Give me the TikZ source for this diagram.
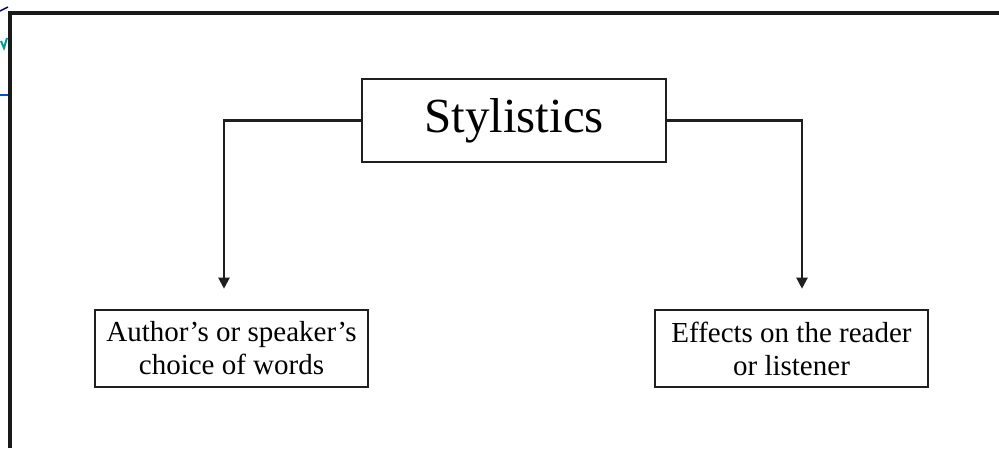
\documentclass[tikz,border=0pt]{standalone}
\usepackage{fontspec}
\setmainfont{Liberation Serif}
\usetikzlibrary{arrows.meta}
\begin{document}
\begin{tikzpicture}[x=1pt,y=-1pt,
  box/.style={draw=black!88, line width=2.6pt, align=center, inner sep=0pt},
  conn/.style={draw=black!88, line width=2.2pt, -{Triangle[width=11pt,length=11pt]}},
  frameline/.style={draw=black!90, line width=4pt}]
\useasboundingbox (0,0) rectangle (999,448);
\fill[white] (0,0) rectangle (999,448);
% frame
\draw[frameline] (10,448) -- (10,13) -- (999,13);
% small marks at top-left
\draw[blue!60!cyan!80!black, line width=1.2pt] (0,95) -- (8,95);
\draw[teal!80!cyan, line width=2pt] (1,41) -- (4,48) -- (7,38);
\draw[blue!40!black, line width=1.5pt] (0,11) -- (8,7);
% nodes
\node[box, minimum width=304, minimum height=83, font=\fontsize{49}{55}\selectfont] (sty) at (514,120.5) {Stylistics};
\node[box, minimum width=273, minimum height=77, font=\fontsize{29}{33}\selectfont] (auth) at (231.5,348.5) {Author’s or speaker’s\\choice of words};
\node[box, minimum width=273, minimum height=77, font=\fontsize{29}{33}\selectfont] (eff) at (791.5,348.5) {Effects on the reader\\or listener};
% connectors
\draw[conn, shorten >=20pt] (sty.west) -| ([xshift=-7.5]auth.north);
\draw[conn, shorten >=20pt] (sty.east) -| ([xshift=10.5]eff.north);
\end{tikzpicture}
\end{document}
